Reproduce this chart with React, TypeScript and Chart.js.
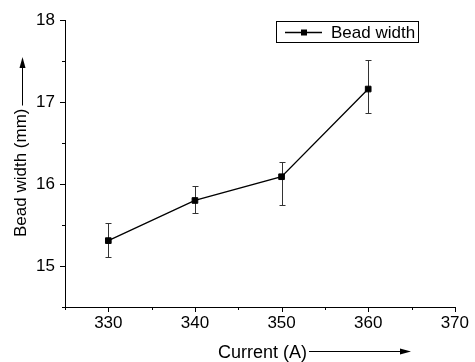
import React, { useEffect, useRef } from "react";
import { Chart, registerables } from "chart.js";

Chart.register(...registerables);

// ---- data ----
const currents = [330, 340, 350, 360];
const beadWidth = [15.31, 15.8, 16.09, 17.16];
const errLow = [15.11, 15.65, 15.74, 16.87];
const errHigh = [15.53, 15.98, 16.27, 17.52];
const xTicks = [330, 340, 350, 360, 370];
const xMinor = [325, 335, 345, 355, 365];
const yTicks = [15, 16, 17, 18];
const yMinor = [14.5, 15.5, 16.5, 17.5];
const seriesLabel = "Bead width";
const xTitle = "Current (A)";
const yTitle = "Bead width (mm)";

const FONT = "'Liberation Sans', Arial, Helvetica, sans-serif";

const errorBarsPlugin = {
  id: "errorBars",
  beforeDatasetsDraw(chart: any) {
    const { ctx } = chart;
    const x = chart.scales.x;
    const y = chart.scales.y;
    ctx.save();
    ctx.strokeStyle = "#333";
    ctx.lineWidth = 1;
    currents.forEach((c, i) => {
      const px = Math.round(x.getPixelForValue(c)) + 0.5;
      const top = Math.round(y.getPixelForValue(errHigh[i])) + 0.5;
      const bot = Math.round(y.getPixelForValue(errLow[i])) + 0.5;
      ctx.beginPath();
      ctx.moveTo(px, top);
      ctx.lineTo(px, bot);
      ctx.moveTo(px - 3, top);
      ctx.lineTo(px + 3, top);
      ctx.moveTo(px - 3, bot);
      ctx.lineTo(px + 3, bot);
      ctx.stroke();
    });
    ctx.restore();
  },
};

function arrowHead(ctx: CanvasRenderingContext2D, tipX: number, tipY: number, dir: "up" | "right") {
  const len = 11;
  const half = 3;
  ctx.beginPath();
  if (dir === "up") {
    ctx.moveTo(tipX, tipY);
    ctx.lineTo(tipX - half, tipY + len);
    ctx.lineTo(tipX + half, tipY + len);
  } else {
    ctx.moveTo(tipX, tipY);
    ctx.lineTo(tipX - len, tipY - half);
    ctx.lineTo(tipX - len, tipY + half);
  }
  ctx.closePath();
  ctx.fill();
}

const decorPlugin = {
  id: "decor",
  afterDraw(chart: any) {
    const { ctx, chartArea } = chart;
    const x = chart.scales.x;
    const y = chart.scales.y;
    ctx.save();
    ctx.strokeStyle = "#000";
    ctx.fillStyle = "#000";
    ctx.lineWidth = 1;

    // tick marks
    const bottom = chartArea.bottom;
    const left = chartArea.left;
    ctx.beginPath();
    xTicks.forEach((v) => {
      const px = Math.round(x.getPixelForValue(v)) + 0.5;
      ctx.moveTo(px, bottom);
      ctx.lineTo(px, bottom + 5);
    });
    xMinor.forEach((v) => {
      const px = Math.round(x.getPixelForValue(v)) + 0.5;
      ctx.moveTo(px, bottom);
      ctx.lineTo(px, bottom + 3);
    });
    yTicks.forEach((v) => {
      const py = Math.round(y.getPixelForValue(v)) + 0.5;
      ctx.moveTo(left, py);
      ctx.lineTo(left - 5, py);
    });
    yMinor.forEach((v) => {
      const py = Math.round(y.getPixelForValue(v)) + 0.5;
      ctx.moveTo(left, py);
      ctx.lineTo(left - 3, py);
    });
    ctx.stroke();

    // x title + arrow
    ctx.font = `18px ${FONT}`;
    ctx.textAlign = "left";
    ctx.textBaseline = "alphabetic";
    ctx.fillText(xTitle, 218, 358);
    const xw = ctx.measureText(xTitle).width;
    ctx.beginPath();
    ctx.moveTo(218 + xw + 2, 351.5);
    ctx.lineTo(402, 351.5);
    ctx.stroke();
    arrowHead(ctx, 411, 351.5, "right");

    // y title + arrow
    ctx.font = `17px ${FONT}`;
    ctx.save();
    ctx.translate(26, 237);
    ctx.rotate(-Math.PI / 2);
    ctx.fillText(yTitle, 0, 0);
    const yw = ctx.measureText(yTitle).width;
    ctx.restore();
    ctx.beginPath();
    ctx.moveTo(22.5, 237 - yw - 3);
    ctx.lineTo(22.5, 66);
    ctx.stroke();
    arrowHead(ctx, 22.5, 57, "up");

    // legend
    ctx.strokeStyle = "#000";
    ctx.lineWidth = 1;
    ctx.strokeRect(276.5, 21.5, 142, 21);
    ctx.lineWidth = 1.3;
    ctx.beginPath();
    ctx.moveTo(285, 32.5);
    ctx.lineTo(322, 32.5);
    ctx.stroke();
    ctx.fillRect(301, 29.5, 6, 6);
    ctx.font = `17px ${FONT}`;
    ctx.textBaseline = "middle";
    ctx.fillText(seriesLabel, 331, 33);

    ctx.restore();
  },
};

export default function App() {
  const canvasRef = useRef<HTMLCanvasElement | null>(null);

  useEffect(() => {
    const canvas = canvasRef.current;
    if (!canvas) return;
    const chart = new Chart(canvas, {
      type: "line",
      data: {
        datasets: [
          {
            label: seriesLabel,
            data: currents.map((c, i) => ({ x: c, y: beadWidth[i] })),
            borderColor: "#000",
            backgroundColor: "#000",
            borderWidth: 1.3,
            pointStyle: "rect",
            pointRadius: 4,
            pointBorderWidth: 1,
            pointBackgroundColor: "#000",
            pointBorderColor: "#000",
            tension: 0,
            fill: false,
          },
        ],
      },
      options: {
        responsive: false,
        animation: false,
        events: [],
        layout: { padding: { top: 16, right: 14, left: 0, bottom: 0 } },
        plugins: {
          legend: { display: false },
          tooltip: { enabled: false },
          title: { display: false },
        },
        scales: {
          x: {
            type: "linear",
            min: 325,
            max: 370,
            afterBuildTicks: (s: any) => {
              s.ticks = xTicks.map((v) => ({ value: v }));
            },
            afterFit: (s: any) => {
              s.height = 55;
            },
            grid: { display: false, drawTicks: false },
            border: { display: true, color: "#000", width: 1 },
            ticks: {
              font: { family: FONT, size: 17 },
              color: "#000",
              padding: 6,
              maxRotation: 0,
              autoSkip: false,
            },
          },
          y: {
            type: "linear",
            min: 14.5,
            max: 18,
            afterBuildTicks: (s: any) => {
              s.ticks = yTicks.map((v) => ({ value: v }));
            },
            afterFit: (s: any) => {
              s.width = 65;
            },
            grid: { display: false, drawTicks: false },
            border: { display: true, color: "#000", width: 1 },
            ticks: {
              font: { family: FONT, size: 17 },
              color: "#000",
              padding: 10,
            },
          },
        },
      },
      plugins: [errorBarsPlugin, decorPlugin],
    } as any);
    return () => chart.destroy();
  }, []);

  return (
    <div style={{ position: "fixed", left: 0, top: 0, width: 475, height: 362, background: "#fff" }}>
      <canvas ref={canvasRef} width={475} height={362} style={{ display: "block" }} />
    </div>
  );
}
